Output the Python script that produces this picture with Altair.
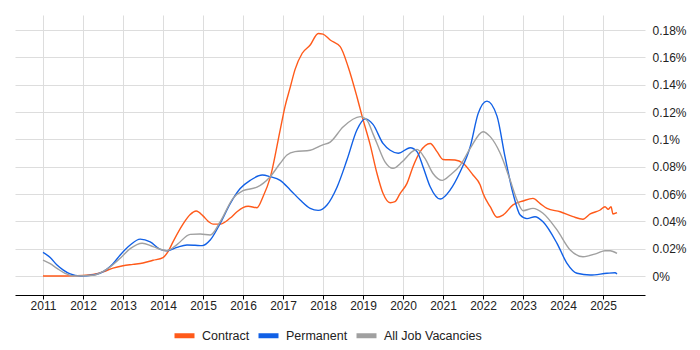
import altair as alt
import pandas as pd

series_names = ["Contract", "Permanent", "All Job Vacancies"]
series_colors = ["#ff5a1a", "#1160e6", "#a0a0a0"]

contract_years = [2011.00, 2011.43, 2011.80, 2012.00, 2012.25, 2012.50, 2012.75, 2013.00, 2013.25, 2013.50,
                  2013.75, 2014.00, 2014.13, 2014.25, 2014.50, 2014.68, 2014.83, 2015.00, 2015.13, 2015.25,
                  2015.43, 2015.68, 2015.85, 2016.00, 2016.13, 2016.35, 2016.50, 2016.68, 2016.93, 2017.05,
                  2017.18, 2017.30, 2017.48, 2017.68, 2017.88, 2018.00, 2018.18, 2018.43, 2018.63, 2018.85,
                  2018.98, 2019.18, 2019.35, 2019.50, 2019.68, 2019.80, 2019.93, 2020.10, 2020.25, 2020.43,
                  2020.68, 2020.85, 2021.00, 2021.30, 2021.50, 2021.75, 2021.93, 2022.00, 2022.18, 2022.35,
                  2022.50, 2022.75, 2023.00, 2023.25, 2023.43, 2023.60, 2023.93, 2024.25, 2024.50, 2024.68,
                  2024.93, 2025.05, 2025.13, 2025.20, 2025.25, 2025.35]
contract_values = [0.0, 0.0, 0.0002, 0.0004, 0.0012, 0.003, 0.0058, 0.0075, 0.0085, 0.0095,
                   0.0115, 0.0135, 0.018, 0.025, 0.038, 0.045, 0.0476, 0.044, 0.040, 0.038,
                   0.038, 0.0424, 0.047, 0.050, 0.051, 0.050, 0.058, 0.072, 0.107, 0.124,
                   0.138, 0.151, 0.163, 0.169, 0.1775, 0.177, 0.1727, 0.1678, 0.153, 0.131,
                   0.1166, 0.096, 0.075, 0.0605, 0.0536, 0.0544, 0.0605, 0.0678, 0.080, 0.091,
                   0.097, 0.091, 0.0853, 0.0849, 0.0825, 0.0739, 0.0666, 0.0605, 0.0507, 0.043,
                   0.0446, 0.052, 0.0549, 0.0568, 0.053, 0.0495, 0.047, 0.0434, 0.0415, 0.0454,
                   0.0483, 0.0507, 0.0488, 0.0507, 0.0454, 0.0463]

permanent_years = [2011.00, 2011.18, 2011.35, 2011.50, 2011.68, 2011.93, 2012.25, 2012.60, 2012.75, 2012.93,
                   2013.18, 2013.43, 2013.68, 2013.93, 2014.10, 2014.35, 2014.60, 2014.80, 2014.98, 2015.18,
                   2015.43, 2015.68, 2015.93, 2016.18, 2016.48, 2016.68, 2016.93, 2017.18, 2017.43, 2017.68,
                   2017.88, 2018.10, 2018.35, 2018.60, 2018.85, 2019.05, 2019.25, 2019.50, 2019.68, 2019.88,
                   2020.18, 2020.35, 2020.50, 2020.68, 2020.93, 2021.18, 2021.43, 2021.68, 2021.88, 2022.10,
                   2022.35, 2022.55, 2022.75, 2022.93, 2023.10, 2023.30, 2023.50, 2023.85, 2024.10, 2024.35,
                   2024.68, 2025.10, 2025.30, 2025.35]
permanent_values = [0.0173, 0.0135, 0.008, 0.0045, 0.0015, 0.0, 0.0007, 0.005, 0.009, 0.0154,
                    0.0227, 0.027, 0.025, 0.0195, 0.0185, 0.021, 0.0227, 0.0225, 0.0222, 0.0263,
                    0.0385, 0.053, 0.064, 0.070, 0.0739, 0.0727, 0.070, 0.063, 0.0556, 0.0495,
                    0.048, 0.052, 0.065, 0.085, 0.107, 0.115, 0.111, 0.097, 0.092, 0.0898,
                    0.0939, 0.091, 0.080, 0.0653, 0.0563, 0.063, 0.0763, 0.0946, 0.119, 0.128,
                    0.117, 0.0873, 0.0605, 0.0446, 0.042, 0.0434, 0.0397, 0.0239, 0.0093, 0.002,
                    0.0007, 0.002, 0.0024, 0.0015]

all_years = [2011.00, 2011.18, 2011.35, 2011.55, 2011.75, 2012.25, 2012.60, 2012.93, 2013.18, 2013.48,
             2013.75, 2014.10, 2014.35, 2014.68, 2014.93, 2015.18, 2015.43, 2015.75, 2016.00, 2016.35,
             2016.68, 2016.93, 2017.10, 2017.30, 2017.68, 2017.98, 2018.18, 2018.50, 2018.93, 2019.10,
             2019.25, 2019.35, 2019.55, 2019.75, 2019.98, 2020.23, 2020.35, 2020.55, 2020.75, 2020.98,
             2021.18, 2021.43, 2021.68, 2022.00, 2022.18, 2022.43, 2022.68, 2022.85, 2023.00, 2023.25,
             2023.50, 2023.85, 2024.18, 2024.50, 2024.85, 2025.05, 2025.18, 2025.35]
all_values = [0.0117, 0.009, 0.0056, 0.002, 0.0, 0.0005, 0.005, 0.013, 0.020, 0.024,
              0.0215, 0.0185, 0.023, 0.0305, 0.0307, 0.030, 0.0397, 0.0568, 0.0624, 0.065,
              0.0727, 0.0825, 0.0885, 0.091, 0.092, 0.0958, 0.098, 0.109, 0.1166, 0.114,
              0.104, 0.097, 0.0836, 0.0788, 0.0836, 0.091, 0.0927, 0.086, 0.075, 0.070,
              0.0739, 0.081, 0.0934, 0.1056, 0.102, 0.0898, 0.070, 0.0556, 0.0478, 0.0495,
              0.0459, 0.0337, 0.019, 0.0141, 0.0166, 0.0185, 0.0185, 0.0166]

year_ticks = list(range(2011, 2026))
pct_ticks = [0, 0.02, 0.04, 0.06, 0.08, 0.1, 0.12, 0.14, 0.16, 0.18]

frames = []
for name, xs, ys in [("Contract", contract_years, contract_values),
                     ("Permanent", permanent_years, permanent_values),
                     ("All Job Vacancies", all_years, all_values)]:
    frames.append(pd.DataFrame({"series": name, "year": xs, "value": ys}))
df = pd.concat(frames, ignore_index=True)

FONT = "Liberation Sans"

chart = alt.Chart(df).mark_line(strokeWidth=1.4, interpolate="monotone").encode(
    x=alt.X("year:Q",
            scale=alt.Scale(domain=[2010.3, 2026.05], nice=False, zero=False),
            axis=alt.Axis(values=year_ticks, format="d", title=None, grid=True,
                          gridColor="#dddddd", domainColor="#000000", tickColor="#000000",
                          tickSize=4, labelFontSize=12, labelPadding=1, labelColor="#222222",
                          labelFont=FONT)),
    y=alt.Y("value:Q",
            scale=alt.Scale(domain=[-0.0139, 0.191], nice=False, zero=False),
            axis=alt.Axis(orient="right", values=pct_ticks, title=None, grid=True,
                          gridColor="#dddddd", domain=False, ticks=False, labelPadding=7,
                          labelFontSize=12, labelColor="#222222", labelFont=FONT,
                          labelExpr="format(datum.value, '.2~f') + '%'")),
    color=alt.Color("series:N",
                    scale=alt.Scale(domain=series_names, range=series_colors),
                    legend=alt.Legend(title=None, orient="none", legendX=157, legendY=308,
                                      direction="horizontal", symbolType="stroke",
                                      symbolSize=400, symbolStrokeWidth=5, labelOffset=5,
                                      columnPadding=-2, labelFontSize=12.5, labelFont=FONT,
                                      labelColor="#222222")),
).properties(
    width=630, height=280,
    padding={"left": 7, "top": 7, "right": 5, "bottom": 5},
).configure_view(stroke="transparent")

chart.save("out.html", embed_options={"renderer": "svg", "actions": False})
